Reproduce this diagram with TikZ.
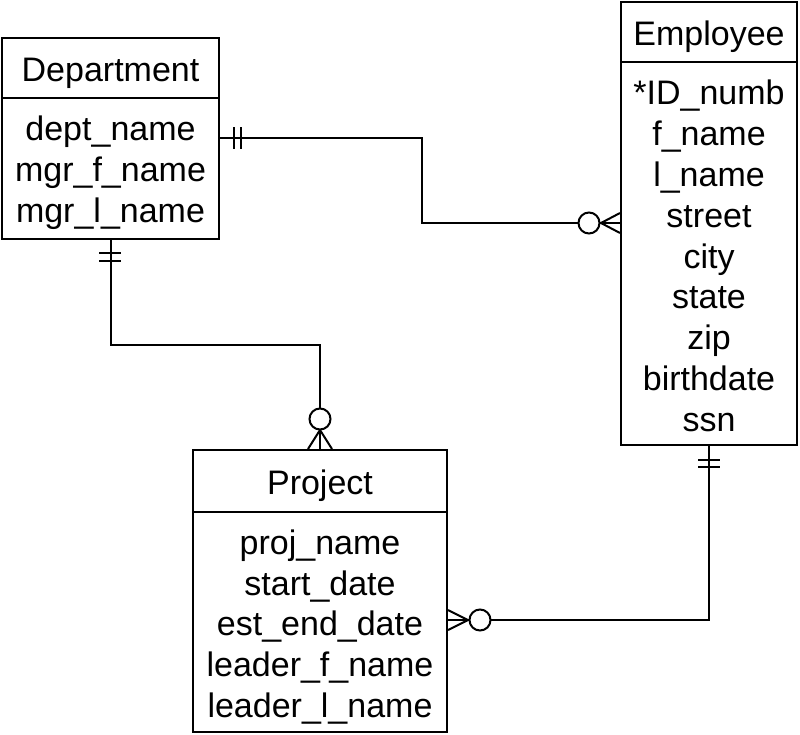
\documentclass[tikz,border=0pt]{standalone}
\usepackage{fontspec}
\setmainfont{Liberation Sans}
\begin{document}
\begin{tikzpicture}[x=1pt,y=-1pt,
  txt/.style={inner sep=0pt, align=center, font=\fontsize{34}{40.8}\selectfont, text=black},
  box/.style={draw=black, line width=2pt, rectangle, inner sep=0pt},
  head/.style={box, txt, execute at begin node={\rule{0pt}{34pt}}},
  conn/.style={draw=black, line width=2pt, line join=miter},
  ring/.style={draw=black, line width=2pt, fill=white}]
\useasboundingbox (0,0) rectangle (800,734);
% Department
\node[head, minimum width=217pt, minimum height=60pt] (dept) at (110.5,68) {Department};
\node[box, minimum width=217pt, minimum height=141pt] (deptbody) at (110.5,168.5) {};
\node[txt] (depttext) at ([yshift=-4.5pt]deptbody.center)
  {dept\_name\\mgr\_f\_name\\mgr\_l\_name};
% Employee
\node[head, minimum width=176pt, minimum height=60pt] (emp) at (709,32) {Employee};
\node[box, minimum width=176pt, minimum height=383pt] (empbody) at (709,253.5) {};
\node[txt] (emptext) at ([yshift=-2.5pt]empbody.center)
  {*ID\_numb\\f\_name\\l\_name\\street\\city\\state\\zip\\birthdate\\ssn};
% Project
\node[head, minimum width=254pt, minimum height=62pt] (proj) at (320,481) {Project};
\node[box, minimum width=254pt, minimum height=220pt] (projbody) at (320,622) {};
\node[txt] (projtext) at ([yshift=-5pt]projbody.center)
  {proj\_name\\start\_date\\est\_end\_date\\leader\_f\_name\\leader\_l\_name};
% Department -- Employee
\draw[conn] (deptbody.east |- 0,138) -- (422,138) -- (422,223) -- (empbody.west |- 0,223);
\draw[conn] (234,127) -- (234,149) (241,127) -- (241,149);
\draw[ring] (589,223) circle[radius=10.5];
\draw[conn] (601,223) -- (empbody.west |- 0,213)
            (601,223) -- (empbody.west |- 0,233);
% Department -- Project
\draw[conn] (deptbody.south) -- (110.5,345) -- (320,345) -- (proj.north);
\draw[conn] (99,253) -- (121,253) (99,261) -- (121,261);
\draw[ring] (320,419) circle[radius=10.5];
\draw[conn] (320,430) -- (proj.north -| 308,0)
            (320,430) -- (proj.north -| 332,0);
% Employee -- Project
\draw[conn] (empbody.south) -- (709,620) -- (projbody.east |- 0,620);
\draw[conn] (698,460) -- (720,460) (698,467) -- (720,467);
\draw[ring] (480,620) circle[radius=10.5];
\draw[conn] (468,620) -- (projbody.east |- 0,610)
            (468,620) -- (projbody.east |- 0,630);
\end{tikzpicture}
\end{document}
